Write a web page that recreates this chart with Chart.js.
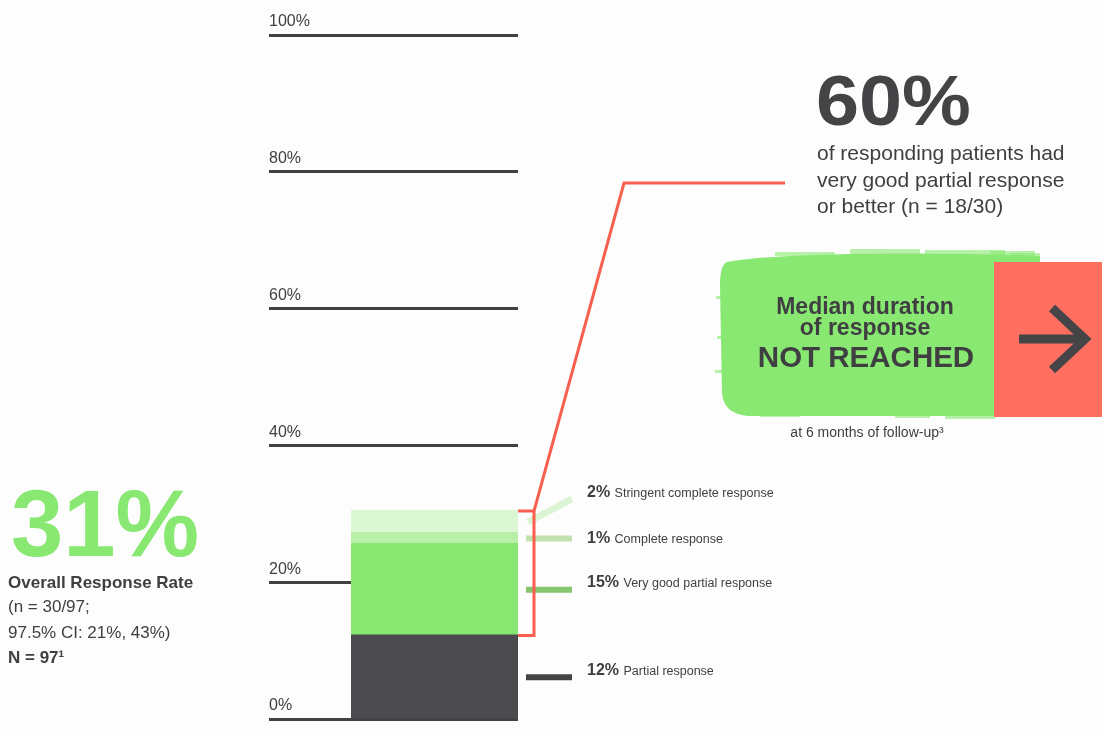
<!DOCTYPE html>
<html>
<head>
<meta charset="utf-8">
<title>Overall Response Rate</title>
<script src="https://cdn.jsdelivr.net/npm/chart.js@4"></script>
<style>
  body { margin: 0; background: #fdfdfd; }
  #wrap { position: relative; width: 1104px; height: 735px; overflow: hidden;
    font-family: "Liberation Sans", Arial, sans-serif; color: #3f3f41; }
  #wrap canvas { position: absolute; left: 0; top: 0; }
  .t { position: absolute; white-space: nowrap; }
</style>
</head>
<body>
<div id="wrap"><canvas id="orrChart" width="1104" height="735"></canvas></div>
<script>
// data (segment heights of the stacked bar, in %)
const categories = ['Overall response']
const seriesNames = ['Partial response', 'Very good partial response', 'Complete response', 'Stringent complete response']
const seriesLabels = ['12%', '15%', '1%', '2%']
const partialResponse = [12.2]
const veryGoodPartial = [13.4]
const completeResponse = [1.6]
const stringentComplete = [3.2]
const yTicks = [0, 20, 40, 60, 80, 100]

const barColors = ['#4b4b4d', '#88e872', '#b9efa9', '#dbf7d4']
const markerColors = ['#444446', '#85c56e', '#bfe2b0', '#dcf3d4']
const red = '#f95f4f'

const wrap = document.querySelector('#wrap')

// text helper, places a line by its baseline
function addText (html, x, base, size, opts = {}) {
  const el = document.createElement('div')
  el.className = 't'
  el.innerHTML = html
  el.style.fontSize = size + 'px'
  el.style.lineHeight = size + 'px'
  el.style.top = (base - 0.8465 * size) + 'px'
  el.style.left = x + 'px'
  const tf = []
  if (opts.center) tf.push('translateX(-50%)')
  if (opts.stretch) { tf.push('scaleX(' + opts.stretch + ')'); el.style.transformOrigin = 'left center' }
  if (tf.length) el.style.transform = tf.join(' ')
  if (opts.bold) el.style.fontWeight = 'bold'
  if (opts.color) el.style.color = opts.color
  wrap.appendChild(el)
}

// brush box, red box and arrow behind everything
const backdrop = {
  id: 'backdrop',
  beforeDraw (chart) {
    const ctx = chart.ctx
    ctx.save()
    ctx.fillStyle = '#88e872'
    ctx.beginPath()
    ctx.moveTo(727, 262)
    ctx.bezierCurveTo(770, 254, 900, 251, 1040, 256)
    ctx.lineTo(1040, 416)
    ctx.lineTo(748, 416)
    ctx.bezierCurveTo(730, 414, 723, 406, 722, 392)
    ctx.lineTo(720, 286)
    ctx.bezierCurveTo(720, 272, 722, 264, 727, 262)
    ctx.fill()
    // dry brush edges, overlapping the solid shape
    ctx.globalAlpha = 0.6
    const streaks = [[850, 249, 70, 5], [925, 250, 80, 5], [775, 252, 60, 4], [990, 251, 45, 6],
      [1010, 253, 30, 4], [716, 296, 8, 3], [717, 336, 7, 3], [715, 370, 9, 3],
      [945, 414, 50, 5], [895, 415, 35, 3], [760, 414, 40, 3]]
    streaks.forEach(s => ctx.fillRect(...s))
    ctx.globalAlpha = 1
    ctx.fillStyle = '#ff6f60'
    ctx.fillRect(994, 262, 108, 155)
    ctx.strokeStyle = '#454547'
    ctx.lineWidth = 9
    ctx.beginPath()
    ctx.moveTo(1019, 339)
    ctx.lineTo(1087, 339)
    ctx.moveTo(1052, 308)
    ctx.lineTo(1085, 339)
    ctx.lineTo(1052, 370)
    ctx.stroke()
    ctx.restore()
  }
}

// bracket, connector and the legend markers beside the bar
const annotations = {
  id: 'annotations',
  afterDatasetsDraw (chart) {
    const ctx = chart.ctx
    const y = chart.scales.y
    const right = chart.chartArea.right
    const values = [partialResponse[0], veryGoodPartial[0], completeResponse[0], stringentComplete[0]]
    const cum = []
    values.reduce((acc, v, i) => { cum[i] = acc; return acc + v }, 0)
    const total = cum[3] + values[3]
    ctx.save()
    ctx.lineWidth = 6
    for (let i = 0; i < 3; i++) {
      const ym = y.getPixelForValue(cum[i] + values[i] / 2)
      ctx.strokeStyle = markerColors[i]
      ctx.beginPath()
      ctx.moveTo(right + 8, ym)
      ctx.lineTo(right + 54, ym)
      ctx.stroke()
    }
    const yTop = y.getPixelForValue(cum[3] + values[3] / 2)
    ctx.strokeStyle = markerColors[3]
    ctx.lineWidth = 7
    ctx.beginPath()
    ctx.moveTo(right + 10, yTop)
    ctx.lineTo(right + 54, yTop - 23)
    ctx.stroke()

    const top = y.getPixelForValue(total)
    const bottom = y.getPixelForValue(partialResponse[0])
    ctx.strokeStyle = red
    ctx.lineWidth = 3
    ctx.lineJoin = 'miter'
    ctx.beginPath()
    ctx.moveTo(right, top)
    ctx.lineTo(right + 16, top)
    ctx.lineTo(right + 16, bottom)
    ctx.lineTo(right, bottom)
    ctx.moveTo(right + 16, top)
    ctx.lineTo(624, 183)
    ctx.lineTo(785, 183)
    ctx.stroke()
    ctx.restore()
  }
}

new Chart(document.querySelector('#orrChart'), {
  type: 'bar',
  data: {
    labels: categories,
    datasets: [
      { label: seriesNames[0], data: partialResponse, backgroundColor: barColors[0] },
      { label: seriesNames[1], data: veryGoodPartial, backgroundColor: barColors[1] },
      { label: seriesNames[2], data: completeResponse, backgroundColor: barColors[2] },
      { label: seriesNames[3], data: stringentComplete, backgroundColor: barColors[3] }
    ]
  },
  options: {
    responsive: false,
    animation: false,
    layout: { padding: { left: 269, right: 586, top: 35, bottom: 16 } },
    datasets: { bar: { barPercentage: 1, categoryPercentage: 1, inflateAmount: 1 } },
    plugins: { legend: { display: false }, tooltip: { enabled: false } },
    scales: {
      x: { display: false, stacked: true },
      y: {
        stacked: true,
        min: 0,
        max: 100,
        afterBuildTicks: scale => { scale.ticks = yTicks.map(v => ({ value: v })) },
        afterFit: scale => { scale.width = 82 },
        border: { display: false },
        grid: { color: '#414143', lineWidth: 3, drawTicks: true, tickLength: 82 },
        ticks: {
          crossAlign: 'far',
          labelOffset: -13,
          color: '#3f3f41',
          font: { family: 'Liberation Sans', size: 16 },
          callback: v => v + '%'
        }
      }
    }
  },
  plugins: [backdrop, annotations]
})

// left block
addText('31%', 11, 557, 94, { bold: true, color: '#88e872' })
addText('Overall Response Rate', 8, 588, 17, { bold: true })
addText('(n = 30/97;', 8, 612.5, 17)
addText('97.5% CI: 21%, 43%)', 8, 638, 17)
addText('N = 97¹', 8, 663.5, 17, { bold: true })

// bar legend
const legendBase = [676, 588, 544, 498]
legendBase.forEach((b, i) => {
  addText('<b>' + seriesLabels[i] + '</b> <span style="font-size:12.5px">' + seriesNames[i] + '</span>', 587, b, 16)
})

// right block
addText('60%', 816, 125, 71, { bold: true, color: '#444446', stretch: 1.09 })
addText('of responding patients had', 817, 160, 21)
addText('very good partial response', 817, 186.5, 21)
addText('or better (n = 18/30)', 817, 213, 21)
addText('Median duration', 865, 314, 23, { bold: true, center: true })
addText('of response', 865, 335, 23, { bold: true, center: true })
addText('NOT REACHED', 866, 366.5, 29.5, { bold: true, center: true })
addText('at 6 months of follow-up³', 867, 437, 14, { center: true })
</script>
</body>
</html>
